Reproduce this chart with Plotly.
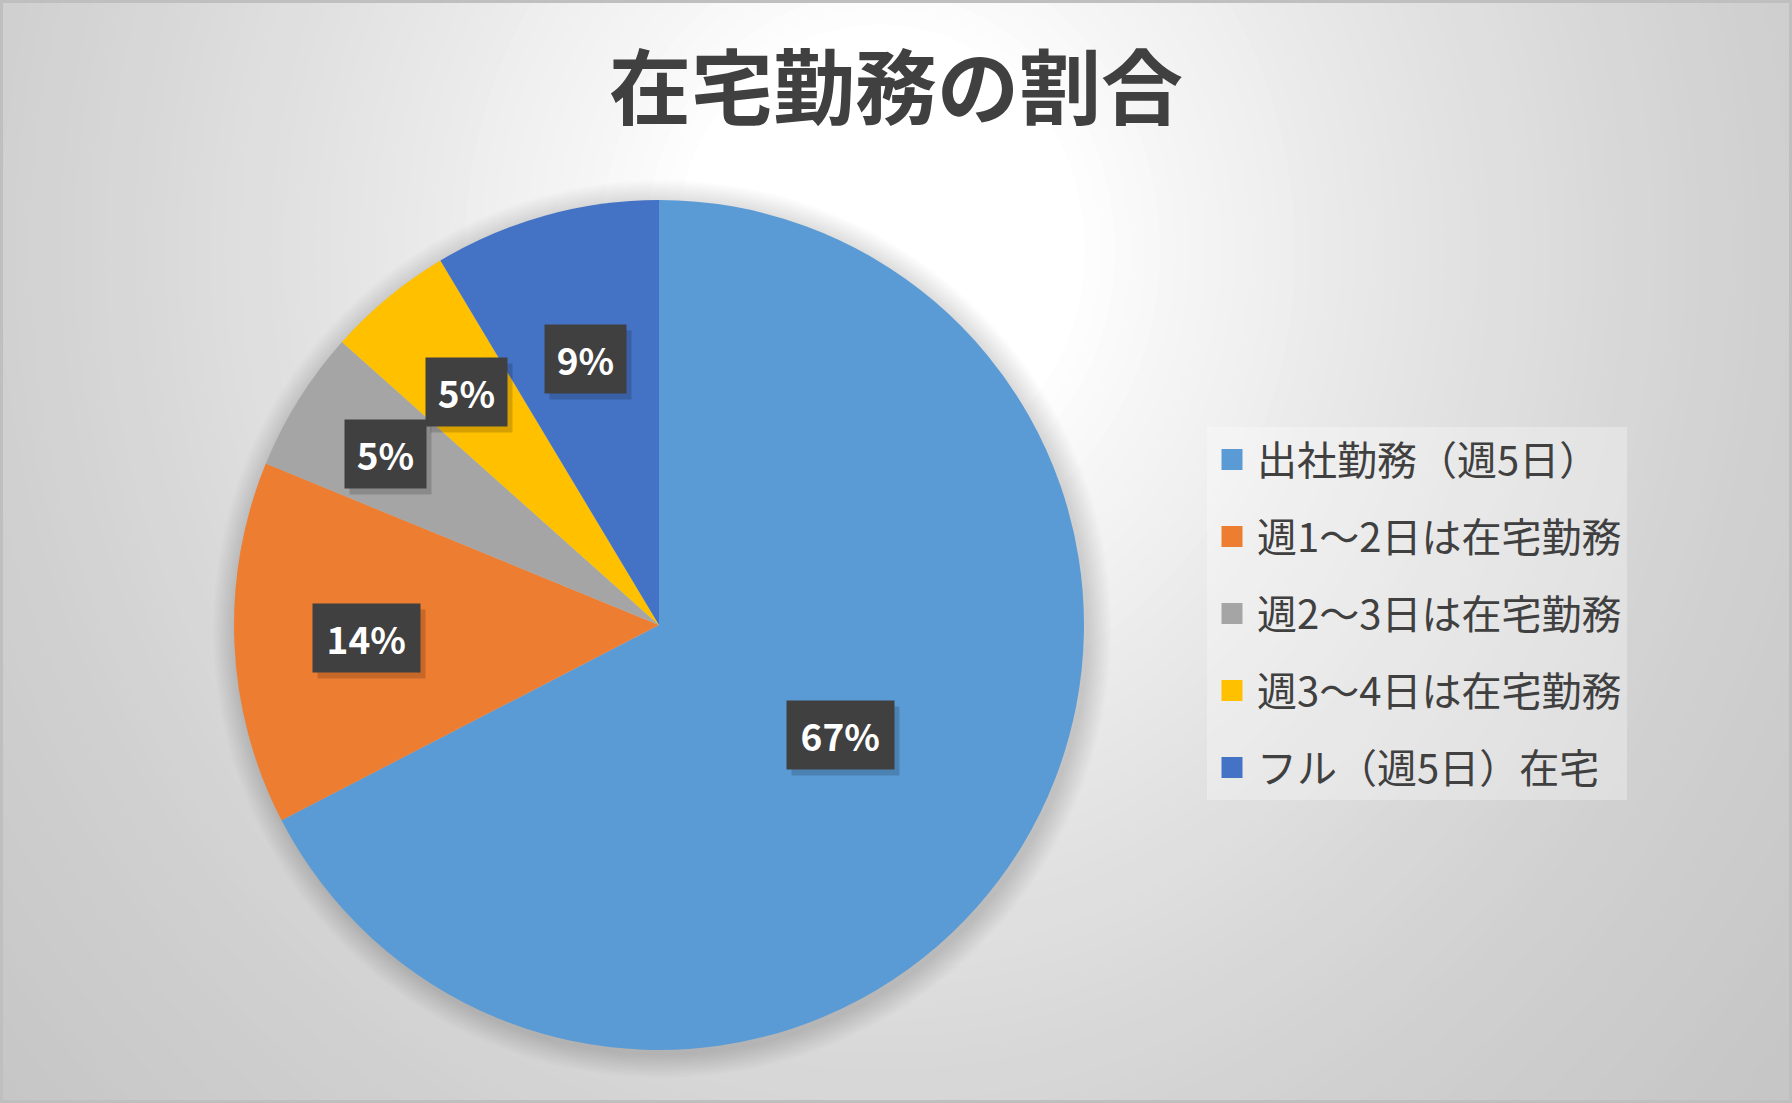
import math
import numpy as np
import plotly.graph_objects as go

# ---------------- data ----------------
categories = ["出社勤務（週5日）", "週1〜2日は在宅勤務", "週2〜3日は在宅勤務",
              "週3〜4日は在宅勤務", "フル（週5日）在宅"]
shares = [67.4, 13.8, 5.4, 4.8, 8.6]
colors = ["#5B9BD5", "#ED7D31", "#A5A5A5", "#FFC000", "#4472C4"]
title_text = "在宅勤務の割合"

# ---------------- layout parameters ----------------
W, H = 1792, 1103
PIE_CX, PIE_CY, PIE_R = 659, 625, 425          # pixels
label_radius = [0.50, 0.69, 0.76, 0.71, 0.65]  # fraction of radius for data labels
FONT = "Noto Sans CJK JP"
TXT = "#404040"

dom_x = [(PIE_CX - PIE_R) / W, (PIE_CX + PIE_R) / W]
dom_y = [1 - (PIE_CY + PIE_R) / H, 1 - (PIE_CY - PIE_R) / H]

fig = go.Figure()

fig.add_trace(go.Pie(
    labels=categories, values=shares, sort=False, direction="clockwise",
    rotation=0, marker=dict(colors=colors, line=dict(width=0)),
    textinfo="none", hoverinfo="label+percent", showlegend=False,
    domain=dict(x=dom_x, y=dom_y),
))

# legend entries (one group per category so the spacing can be set)
for cat, col in zip(categories, colors):
    fig.add_trace(go.Scatter(
        x=[None], y=[None], mode="markers", name=cat, legendgroup=cat,
        marker=dict(symbol="square", size=16, color=col,
                    line=dict(color=col, width=5)),
    ))

# ---------------- background gradient (decoration) ----------------
shapes = []
GC_X, GC_Y, SX, SY = 880, 250, 1000, 1100
d_stops = [0.20, 0.30, 0.45, 0.60, 0.75, 0.90, 1.17, 1.60]
c_stops = [255, 246, 235, 225, 216, 208, 198, 192]
for d in np.arange(1.6, 0.18, -0.015):
    c = int(round(np.interp(d, d_stops, c_stops)))
    shapes.append(dict(
        type="circle", xref="paper", yref="paper", layer="below",
        x0=(GC_X - d * SX) / W, x1=(GC_X + d * SX) / W,
        y0=1 - (GC_Y + d * SY) / H, y1=1 - (GC_Y - d * SY) / H,
        fillcolor=f"rgb({c},{c},{c})", line=dict(width=0),
    ))

# soft shadow behind the pie
for k in range(24, 0, -2):
    rr = PIE_R + k
    sx, sy = PIE_CX + 3, PIE_CY + 4
    shapes.append(dict(
        type="circle", xref="paper", yref="paper", layer="below",
        x0=(sx - rr) / W, x1=(sx + rr) / W,
        y0=1 - (sy + rr) / H, y1=1 - (sy - rr) / H,
        fillcolor="rgba(0,0,0,0.012)", line=dict(width=0),
    ))

# frame
shapes.append(dict(type="rect", xref="paper", yref="paper", layer="above",
                   x0=0, x1=1, y0=0, y1=1,
                   line=dict(color="#BFBFBF", width=6)))

# ---------------- data labels ----------------
total = sum(shares)
cum = 0.0
shadow_ann, label_ann = [], []
for v, f in zip(shares, label_radius):
    mid = (cum + v / 2) / total * 2 * math.pi
    cum += v
    px = PIE_CX + PIE_R * f * math.sin(mid)
    py = PIE_CY - PIE_R * f * math.cos(mid)
    txt = f"{round(v / total * 100)}%"
    bw = 30 + 25.5 * len(txt)
    common = dict(x=px / W, y=1 - py / H, xref="paper", yref="paper",
                  showarrow=False, width=bw, height=68, borderpad=0,
                  xanchor="center", yanchor="middle", align="center",
                  valign="middle")
    shadow_ann.append(dict(text=" ", bgcolor="rgba(0,0,0,0.16)",
                           xshift=5, yshift=-6, **common))
    label_ann.append(dict(text=f"<b>{txt}</b>", bgcolor="#404040",
                          font=dict(family=FONT, size=37, color="white"),
                          **common))
annotations = shadow_ann + label_ann

fig.update_layout(
    width=W, height=H,
    margin=dict(l=0, r=0, t=0, b=0),
    paper_bgcolor="rgb(192,192,192)",
    plot_bgcolor="rgba(0,0,0,0)",
    title=dict(text=f"<b>{title_text}</b>", x=0.5, xanchor="center",
               y=1 - 89 / H, yanchor="middle", yref="container",
               font=dict(family=FONT, size=82, color=TXT)),
    xaxis=dict(visible=False, domain=[0, 1]),
    yaxis=dict(visible=False, domain=[0, 1]),
    legend=dict(
        x=1207 / W, y=1 - 427 / H, xanchor="left", yanchor="top",
        bgcolor="rgba(255,255,255,0.30)", borderwidth=0,
        font=dict(family=FONT, size=40, color=TXT),
        itemwidth=40, tracegroupgap=22, traceorder="grouped",
        entrywidth=390, entrywidthmode="pixels",
    ),
    shapes=shapes,
    annotations=annotations,
    showlegend=True,
)

fig.write_html("out.html",
               config={"displayModeBar": False},
               post_script="document.body.style.margin='0';"
                           "document.body.style.overflow='hidden';")
